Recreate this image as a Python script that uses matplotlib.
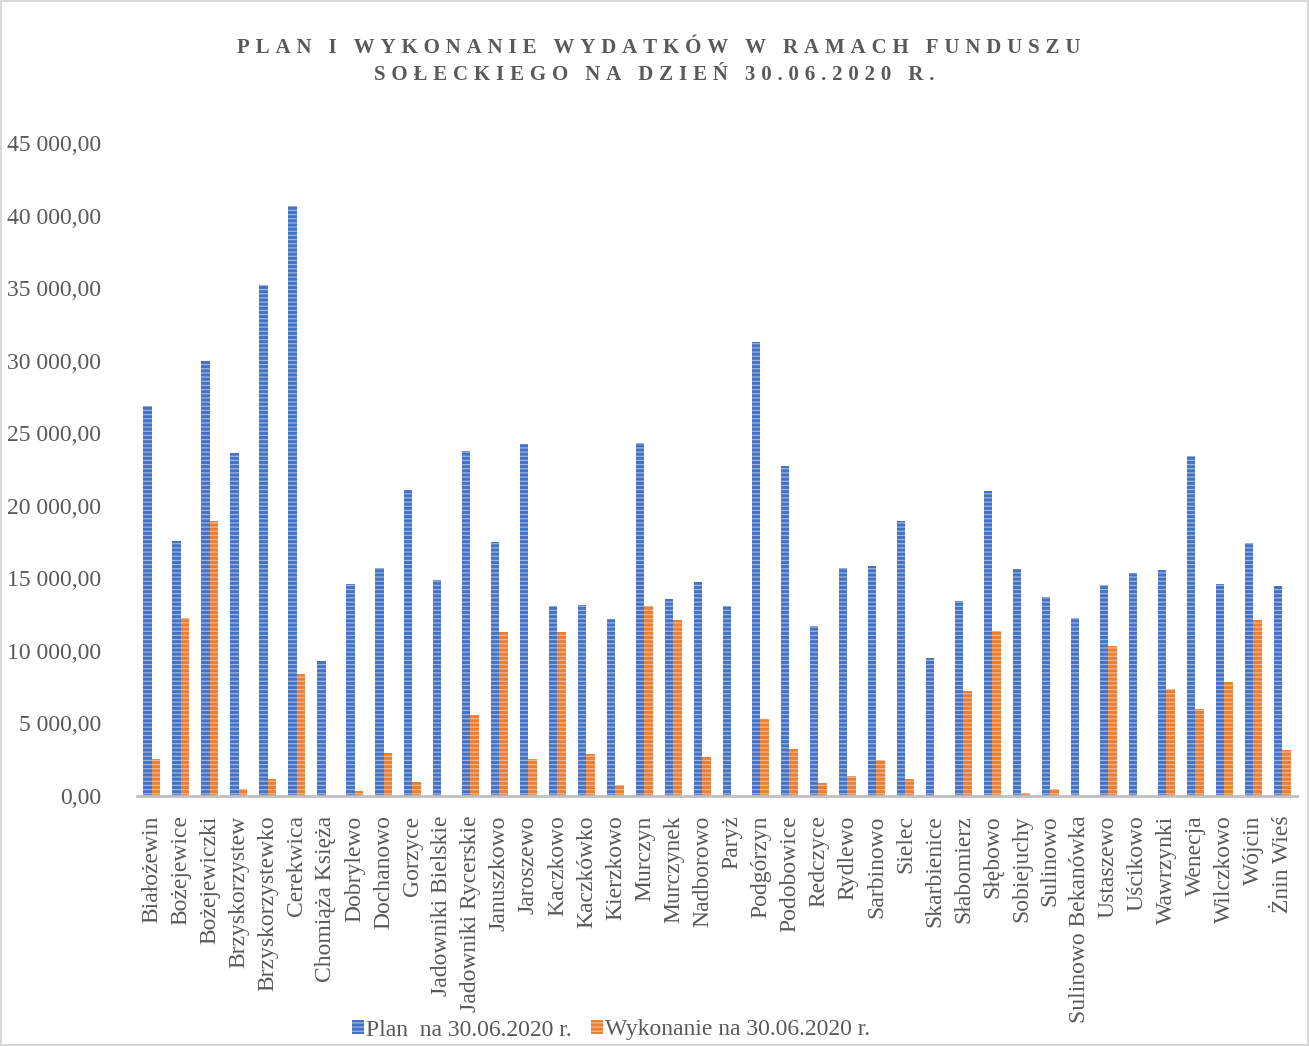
import matplotlib.pyplot as plt
import numpy as np
from matplotlib.ticker import FuncFormatter

villages = [
    "Białożewin", "Bożejewice", "Bożejewiczki", "Brzyskorzystew", "Brzyskorzystewko",
    "Cerekwica", "Chomiąża Księża", "Dobrylewo", "Dochanowo", "Gorzyce",
    "Jadowniki Bielskie", "Jadowniki Rycerskie", "Januszkowo", "Jaroszewo", "Kaczkowo",
    "Kaczkówko", "Kierzkowo", "Murczyn", "Murczynek", "Nadborowo",
    "Paryż", "Podgórzyn", "Podobowice", "Redczyce", "Rydlewo",
    "Sarbinowo", "Sielec", "Skarbienice", "Słabomierz", "Słębowo",
    "Sobiejuchy", "Sulinowo", "Sulinowo Bekanówka", "Ustaszewo", "Uścikowo",
    "Wawrzynki", "Wenecja", "Wilczkowo", "Wójcin", "Żnin Wieś",
]

plan = [
    26880, 17580, 29970, 23620, 35210,
    40650, 9330, 14620, 15700, 21060,
    14860, 23780, 17530, 24250, 13070,
    13140, 12180, 24300, 13550, 14780,
    13070, 31280, 22740, 11720, 15680,
    15850, 18920, 9480, 13470, 21030,
    15620, 13740, 12260, 14560, 15400,
    15580, 23400, 14610, 17420, 14480,
]

wykonanie = [
    2580, 12300, 18960, 500, 1180,
    8390, 0, 320, 2980, 940,
    0, 5580, 11330, 2520, 11280,
    2900, 770, 13060, 12100, 2680,
    0, 5330, 3260, 910, 1400,
    2470, 1160, 0, 7240, 11380,
    230, 450, 0, 10330, 0,
    7380, 5990, 7840, 12100, 3150,
]

title_lines = ["PLAN I WYKONANIE WYDATKÓW W RAMACH FUNDUSZU",
               "SOŁECKIEGO NA DZIEŃ 30.06.2020 R."]
legend_labels = ["Plan  na 30.06.2020 r.", "Wykonanie na 30.06.2020 r."]

plt.rcParams['font.family'] = ['Liberation Serif', 'DejaVu Serif']
plt.rcParams['hatch.linewidth'] = 0.9
gray = "#595959"

fig = plt.figure(figsize=(13.09, 10.46), dpi=100)
fig.patch.set_edgecolor("#D9D9D9")
fig.patch.set_linewidth(1.5)

ax = fig.add_axes([0.1047, 0.239, 0.886, 0.6243])

x = np.arange(len(villages))
w = 0.29
ax.bar(x - w / 2, plan, w, color="#4472C4", edgecolor="#9DB5E6", linewidth=0,
       hatch="----", label=legend_labels[0])
ax.bar(x + w / 2, wykonanie, w, color="#ED7D31", edgecolor="#F6B791", linewidth=0,
       hatch="----", label=legend_labels[1])

ax.set_xlim(-0.5, len(villages) - 0.5)
ax.set_ylim(0, 45000)
ax.set_yticks(np.arange(0, 45001, 5000))
ax.yaxis.set_major_formatter(FuncFormatter(
    lambda v, p: f"{v:,.2f}".replace(",", " ").replace(".", ",")))
ax.set_xticks(x)
ax.set_xticklabels(villages, rotation=90, va="top", ha="center")
ax.tick_params(axis="both", length=0, labelsize=17, colors=gray)
ax.tick_params(axis="y", pad=26)
ax.tick_params(axis="x", pad=14)

for s in ["top", "right", "left"]:
    ax.spines[s].set_visible(False)
ax.spines["bottom"].set_color("#BFBFBF")
ax.spines["bottom"].set_linewidth(2)

# spaced-out title, like Excel's character spacing
spaced = ["\u2009\u200a".join(line) for line in title_lines]
fig.text(0.503, 1 - 48 / 1046, spaced[0], ha="center", va="center",
         fontsize=15, fontweight="bold", color=gray)
fig.text(0.5, 1 - 75 / 1046, spaced[1], ha="center", va="center",
         fontsize=15, fontweight="bold", color=gray)

fig.legend(loc="center", bbox_to_anchor=(611 / 1309, 1 - 1030 / 1046), ncol=2,
           frameon=False, fontsize=17, labelcolor=gray, handlelength=0.5,
           handleheight=0.5, handletextpad=0.1, columnspacing=0.8,
           borderaxespad=0, borderpad=0)

fig.savefig("out.png", dpi=100)
